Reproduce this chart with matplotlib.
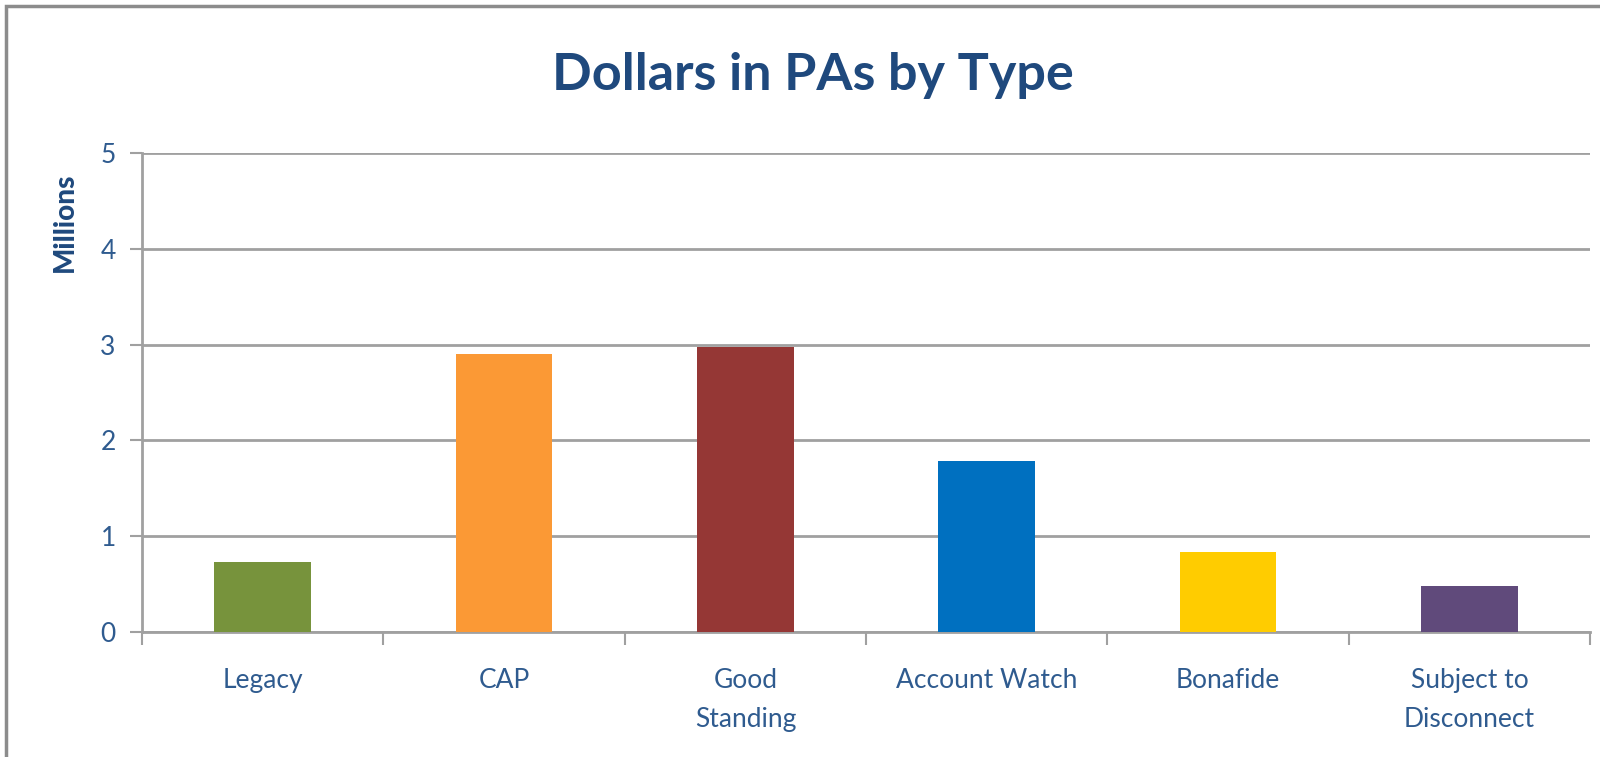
import matplotlib
matplotlib.use("Agg")
import matplotlib.pyplot as plt
from matplotlib.patches import Rectangle
import numpy as np

categories = ["Legacy", "CAP", "Good\nStanding", "Account Watch", "Bonafide", "Subject to\nDisconnect"]
values = [0.73, 2.90, 2.98, 1.78, 0.84, 0.48]
colors = ["#77933C", "#FB9935", "#953735", "#0070C0", "#FFCC00", "#604A7B"]
yticks = [0, 1, 2, 3, 4, 5]

plt.rcParams['font.family'] = ['Lato', 'DejaVu Sans']

fig = plt.figure(figsize=(16, 7.57), dpi=100)
ax = fig.add_axes([0.0888, 0.1651, 0.9050, 0.6328])

x = np.arange(len(categories))
ax.bar(x, values, width=0.40, color=colors, zorder=3)

ax.set_xlim(-0.5, len(categories) - 0.5)
ax.set_ylim(0, 5)

grid_c = "#A0A0A0"
ax.set_yticks(yticks)
ax.yaxis.grid(True, color=grid_c, linewidth=2, zorder=0)
ax.tick_params(axis="y", length=9, width=1.5, color=grid_c, pad=10,
               labelsize=19, labelcolor="#2F5B8F")

ax.set_xticks(np.arange(-0.5, len(categories)), labels=[])
ax.set_xticks(x, labels=categories, minor=True)
ax.tick_params(axis="x", which="major", length=9, width=1.5, color=grid_c)
ax.tick_params(axis="x", which="minor", length=0, pad=26,
               labelsize=19, labelcolor="#2F5B8F")
for lab in ax.get_xticklabels(minor=True):
    lab.set_linespacing(1.7)

for side in ["top", "right"]:
    ax.spines[side].set_visible(False)
for side in ["left", "bottom"]:
    ax.spines[side].set_color(grid_c)
    ax.spines[side].set_linewidth(2)

ax.set_ylabel("Millions", fontsize=20, fontweight="black", color="#1F497D")
ax.yaxis.set_label_coords(-0.044, 0.855)

fig.text(0.508, 0.9, "Dollars in PAs by Type", ha="center", va="center",
         fontsize=37.5, fontweight="bold", color="#1F497D")

fig.patches.append(Rectangle((6 / 1600, -0.1), 1.2, 1 - 6 / 757 + 0.1,
                             transform=fig.transFigure, fill=False,
                             edgecolor="#8C8C8C", linewidth=2.5))

fig.savefig("out.png", dpi=100, facecolor="white")
